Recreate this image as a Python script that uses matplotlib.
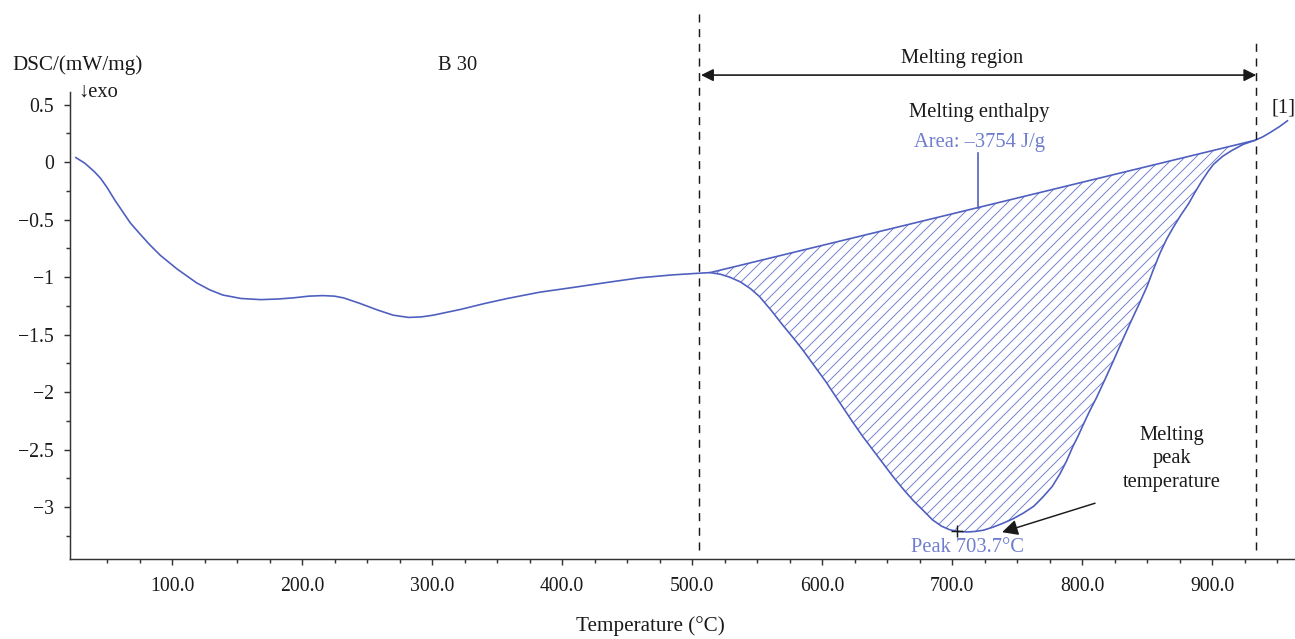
import matplotlib
matplotlib.use("Agg")
import matplotlib.pyplot as plt
import numpy as np
from matplotlib.ticker import FixedLocator, MultipleLocator, FuncFormatter

# DSC trace of sample B 30 (temperature in °C, heat flow in mW/mg)
temperatura = [26, 33, 40, 45, 50, 56, 62, 68, 75, 83, 91, 104, 119, 129, 139,
               153, 168, 181, 193, 205, 216, 225, 232, 245, 258, 270, 282, 292,
               301, 322, 340, 358, 383, 408, 435, 460, 485, 506, 514, 522, 529,
               537, 545, 552, 561, 570, 578, 585, 594, 603, 613, 623, 631, 639,
               647, 655, 663, 670, 678, 685, 692, 698, 704, 712, 718, 724, 731,
               739, 747, 755, 763, 770, 777, 783, 788, 793, 797, 801, 806, 811,
               818, 824, 831, 837, 844, 850, 855, 860, 865, 870, 876, 882, 887,
               892, 897, 901, 908, 915, 924, 933, 939, 945, 952, 958]
dsc = [0.04, -0.01, -0.08, -0.14, -0.22, -0.33, -0.43, -0.53, -0.62, -0.72,
       -0.81, -0.93, -1.05, -1.11, -1.155, -1.185, -1.195, -1.19, -1.18,
       -1.165, -1.16, -1.165, -1.18, -1.23, -1.285, -1.33, -1.35, -1.345,
       -1.33, -1.28, -1.23, -1.185, -1.13, -1.09, -1.045, -1.005, -0.98,
       -0.965, -0.96, -0.975, -1.00, -1.04, -1.10, -1.17, -1.29, -1.42, -1.53,
       -1.63, -1.77, -1.91, -2.08, -2.25, -2.38, -2.50, -2.62, -2.74, -2.85,
       -2.94, -3.03, -3.11, -3.165, -3.195, -3.21, -3.215, -3.21, -3.20,
       -3.175, -3.14, -3.10, -3.05, -2.99, -2.91, -2.82, -2.71, -2.60, -2.47,
       -2.38, -2.28, -2.16, -2.05, -1.88, -1.73, -1.55, -1.40, -1.23, -1.08,
       -0.93, -0.79, -0.67, -0.57, -0.46, -0.36, -0.26, -0.165, -0.08, -0.02,
       0.05, 0.10, 0.155, 0.19, 0.22, 0.26, 0.31, 0.36]

# integration baseline of the melting peak
linha_base_T = [514, 933]
linha_base_dsc = [-0.96, 0.19]

# limits of the melting region
regiao_fusao = [505.4, 934.0]

pico_T = 703.7
pico_dsc = -3.21
entalpia = -3754

x_ticks = [100, 200, 300, 400, 500, 600, 700, 800, 900]

azul = "#4f5fbf"
azul_claro = "#6e7dcf"
preto = "#1a1a1a"

DPI = 132
plt.rcParams["font.family"] = ["Liberation Serif", "DejaVu Serif"]
plt.rcParams["hatch.linewidth"] = 0.5
plt.rcParams["axes.unicode_minus"] = True

fig = plt.figure(figsize=(1295 / DPI, 639 / DPI), dpi=DPI)
ax = fig.add_axes([70 / 1295, 1 - 559 / 639, 1 - 70 / 1295, (559 - 92) / 639])

T = np.array(temperatura)
y = np.array(dsc)

# hatched area between the curve and the baseline
dentro = (T >= linha_base_T[0]) & (T <= linha_base_T[1])
base = np.interp(T[dentro], linha_base_T, linha_base_dsc)
ax.fill_between(T[dentro], y[dentro], base, facecolor="none",
                edgecolor=azul_claro, hatch="////", linewidth=0)

ax.plot(T, y, color=azul, linewidth=0.9)
ax.plot(linha_base_T, linha_base_dsc, color=azul, linewidth=0.9)

ax.set_xlim(21.5, 963.8)
ax.set_ylim(-3.45, 0.61)

for s in ["top", "right"]:
    ax.spines[s].set_visible(False)
for s in ["left", "bottom"]:
    ax.spines[s].set_color("#333333")
    ax.spines[s].set_linewidth(0.8)

ax.xaxis.set_major_locator(FixedLocator(x_ticks))
ax.xaxis.set_minor_locator(FixedLocator(np.arange(50, 964, 25)))
ax.yaxis.set_major_locator(MultipleLocator(0.5))
ax.yaxis.set_minor_locator(MultipleLocator(0.25))
ax.xaxis.set_major_formatter(FuncFormatter(lambda v, p: f"{v:.1f}"))
ax.yaxis.set_major_formatter(
    FuncFormatter(lambda v, p: f"{v:g}".replace("-", "\u2212")))
ax.tick_params(axis="both", which="major", direction="out", length=3.3,
               width=0.8, color="#333333", labelsize=10.8, labelcolor=preto)
ax.tick_params(axis="both", which="minor", direction="out", length=2.2,
               width=0.8, color="#333333")
ax.tick_params(axis="x", which="major", pad=6.3)
ax.tick_params(axis="y", which="major", pad=5.5)

# dashed limits of the melting region
tracos = (0, (5.5, 4.5))
ax.plot([regiao_fusao[0]] * 2, [-3.37, 1.32], color=preto, linewidth=0.8,
        linestyle=tracos, clip_on=False)
ax.plot([regiao_fusao[1]] * 2, [-3.37, 1.04], color=preto, linewidth=0.8,
        linestyle=tracos, clip_on=False)
ax.annotate("", xy=(regiao_fusao[1], 0.757), xytext=(regiao_fusao[0] + 1.5, 0.757),
            arrowprops=dict(arrowstyle="<|-|>", color=preto, lw=0.9,
                            mutation_scale=14, shrinkA=0, shrinkB=0),
            annotation_clip=False)
ax.text(708, 0.90, "Melting region", ha="center", va="center",
        fontsize=11.2, color=preto)

# enthalpy label
ax.text(721, 0.435, "Melting enthalpy", ha="center", va="center",
        fontsize=11.2, color=preto)
ax.text(721, 0.174, f"Area: \u2013{abs(entalpia)} J/g", ha="center",
        va="center", fontsize=11.2, color=azul_claro)
ax.plot([720, 720], [np.interp(720, linha_base_T, linha_base_dsc), 0.078],
        color=azul, linewidth=0.9)

# peak marker and annotation
ax.plot(pico_T, pico_dsc, marker="+", markersize=6.5, markeredgewidth=0.8,
        color=preto)
ax.text(712, -3.35, f"Peak {pico_T}°C", ha="center", va="center",
        fontsize=11.2, color=azul_claro)
ax.annotate("", xy=(738.5, -3.217), xytext=(810, -2.965),
            arrowprops=dict(arrowstyle="-|>", color=preto, lw=0.8,
                            mutation_scale=18, shrinkA=0, shrinkB=0))
ax.text(869, -2.58, "Melting\npeak\ntemperature", ha="center", va="center",
        fontsize=11.2, color=preto, linespacing=1.3)

ax.text(955, 0.47, "[1]", ha="center", va="center", fontsize=11.2, color=preto)
ax.text(320, 0.843, "B 30", ha="center", va="center", fontsize=11.2,
        color=preto)

fig.text(12 / 1295, 1 - 65 / 639, "DSC/(mW/mg)", ha="left", va="center",
         fontsize=11.5, color=preto)
fig.text(78 / 1295, 1 - 92 / 639, "\u2193exo", ha="left", va="center",
         fontsize=11.2, color=preto)
fig.text(650 / 1295, 1 - 626 / 639, "Temperature (°C)", ha="center",
         va="center", fontsize=11.5, color=preto)

fig.savefig("out.png", dpi=DPI)
